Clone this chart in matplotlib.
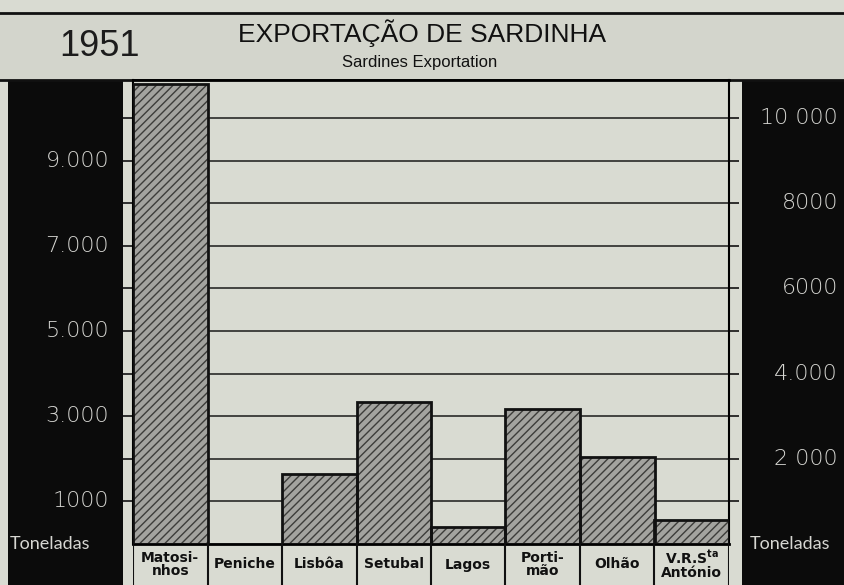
import numpy as np
import matplotlib
matplotlib.use("Agg")
import matplotlib.pyplot as plt
from matplotlib.patches import Rectangle
from matplotlib.transforms import blended_transform_factory

# --- dados ---
portos = ["Matosi-\nnhos", "Peniche", "Lisbôa", "Setubal", "Lagos",
          "Porti-\nmão", "Olhão", "V.R.S$^{\\mathbf{ta}}$\nAntónio"]
toneladas = [10800, 0, 1650, 3330, 400, 3170, 2040, 560]

grelha = [1000, 2000, 3000, 4000, 5000, 6000, 7000, 8000, 9000, 10000]
esq_valores = [1000, 3000, 5000, 7000, 9000]
esq_rotulos = ["1000", "3.000", "5.000", "7.000", "9.000"]
dir_valores = [2000, 4000, 6000, 8000, 10000]
dir_rotulos = ["2 000", "4.000", "6000", "8000", "10 000"]

titulo = "EXPORTAÇÃO DE SARDINHA"
subtitulo = "Sardines Exportation"
ano = "1951"

# --- cores ---
PAPEL = "#d9dbd2"
CABECALHO = "#d3d5cc"
PRETO = "#0b0b0b"
BRANCO = "#d6d6d2"

plt.rcParams["font.family"] = ["Liberation Sans", "DejaVu Sans"]
plt.rcParams["hatch.linewidth"] = 1.0

W, H = 845, 585


def fx(px):
    return px / W


def fy(py):
    return 1 - py / H


def caixa(x0, y0, x1, y1, **kw):
    r = Rectangle((fx(x0), fy(y1)), (x1 - x0) / W, (y1 - y0) / H,
                  transform=fig.transFigure, zorder=-5, **kw)
    fig.add_artist(r)


fig = plt.figure(figsize=(8.45, 5.85), dpi=100, facecolor=PAPEL)

# faixas pretas laterais e cabeçalho
caixa(8, 80, 123, 585, facecolor=PRETO, edgecolor="none")
caixa(742, 76, 845, 585, facecolor=PRETO, edgecolor="none")
caixa(-2, 13, 847, 80, facecolor=CABECALHO, edgecolor="#111111", linewidth=2)

fig.text(fx(100), fy(47), ano, ha="center", va="center", fontsize=26, color="#1c1c1c")
fig.text(fx(422), fy(33), titulo, ha="center", va="center", fontsize=19, color="#111111")
fig.text(fx(420), fy(63), subtitulo, ha="center", va="center", fontsize=12, color="#111111")

# --- gráfico ---
ax = fig.add_axes([fx(133), fy(544), (729 - 133) / W, (544 - 80) / H])
ax.set_facecolor(PAPEL)
x = np.arange(len(portos))
ax.set_xlim(-0.5, len(portos) - 0.5)
ax.set_ylim(0, 10890)

for g in grelha:
    ax.axhline(g, color="#1a1a1a", linewidth=1.1, zorder=1)

ax.bar(x, toneladas, width=1.0, color="#a3a39f", edgecolor="#3c3c3a",
       hatch="////", linewidth=0, zorder=2)
ax.bar(x, toneladas, width=1.0, fill=False, edgecolor="#111111",
       linewidth=2, zorder=3)

for lado in ["left", "right"]:
    ax.spines[lado].set_linewidth(1.5)
ax.spines["top"].set_linewidth(2)
ax.spines["bottom"].set_linewidth(2)

ax.set_xticks([])
ax.set_yticks(grelha)
ax.tick_params(axis="y", left=True, right=True, direction="out",
               length=7.5, width=1.2, color="#111111",
               labelleft=False, labelright=False)

# escalas nas faixas pretas
tr = blended_transform_factory(fig.transFigure, ax.transData)
fonte_num = dict(fontsize=16, color=BRANCO, fontweight="light",
                 family=["DejaVu Sans"])
for v, t in zip(esq_valores, esq_rotulos):
    fig.text(fx(109), v, t, transform=tr, ha="right", va="center", **fonte_num)
for v, t in zip(dir_valores, dir_rotulos):
    fig.text(fx(838), v, t, transform=tr, ha="right", va="center", **fonte_num)
fig.text(fx(10), 0, "Toneladas", transform=tr, ha="left", va="center",
         fontsize=13, color=BRANCO, family=["Lato", "DejaVu Sans"])
fig.text(fx(750), 0, "Toneladas", transform=tr, ha="left", va="center",
         fontsize=13, color=BRANCO, family=["Lato", "DejaVu Sans"])

# linha dos nomes dos portos
axl = fig.add_axes([fx(133), 0, (729 - 133) / W, (585 - 544) / H])
axl.set_xlim(ax.get_xlim())
axl.set_ylim(0, 1)
axl.axis("off")
axl.vlines(np.arange(-0.5, len(portos), 1.0), 0, 1, color="#111111", linewidth=1.5)
for i, nome in enumerate(portos):
    axl.text(i, 0.5, nome, ha="center", va="center", fontsize=10,
             fontweight="bold", color="#111111", linespacing=0.95,
             family=["DejaVu Sans"])

fig.savefig("out.png", dpi=100, facecolor=PAPEL)
